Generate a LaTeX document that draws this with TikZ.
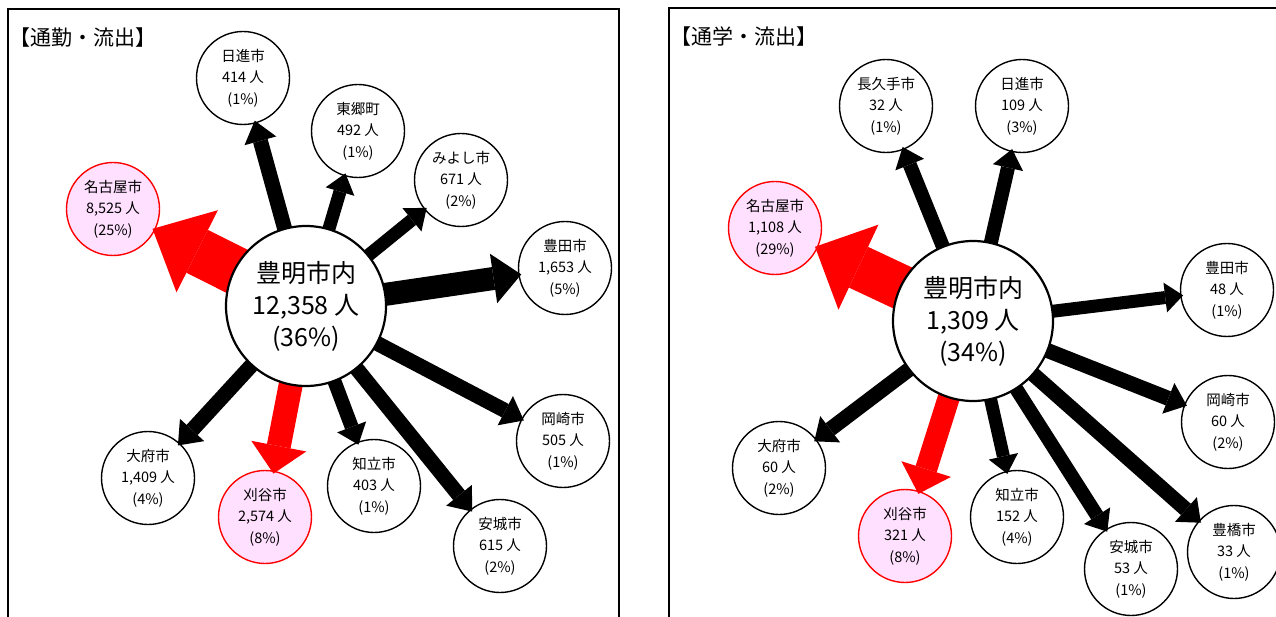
\documentclass[tikz,border=0pt]{standalone}
\usepackage{fontspec}
\setmainfont{Noto Sans CJK JP}
\usetikzlibrary{arrows.meta}
\definecolor{flowred}{RGB}{255,0,0}
\definecolor{softpink}{RGB}{255,224,255}
\pgfdeclarelayer{front}
\pgfsetlayers{main,front}

\begin{document}
\begin{tikzpicture}[x=1pt, y=-1pt,
    town/.style={circle, draw, line width=1.4pt, fill=white, minimum size=93pt, inner sep=0pt, align=center, font=\fontsize{14.5}{21.5}\selectfont},
    major/.style={town, draw=flowred, fill=softpink},
    hub/.style={circle, draw, line width=2.2pt, fill=white, minimum size=160pt, inner sep=0pt, align=center, font=\fontsize{25}{32}\selectfont},
    flow/.style n args={3}{line width=#1, shorten <=-20pt, shorten >=-3pt, -{Triangle[width=#2, length=#3, line width=0pt]}},
    paneltitle/.style={anchor=west, inner sep=0pt, font=\fontsize{21}{21}\selectfont}]
    \clip (0,0) rectangle (1276,617);

    % frames
    \draw[line width=2pt] (8,9) rectangle (619,640);
    \draw[line width=2pt] (669,8) rectangle (1300,640);
    \node[paneltitle] (t1) at (9,38) {【通勤・流出】};
    \node[paneltitle] (t2) at (670,37) {【通学・流出】};

    \begin{pgfonlayer}{front}
        \node[hub] (c1) at (306,306) {豊明市内\\12,358 人\\(36\%)};
        \node[hub] (c2) at (973,321) {豊明市内\\1,309 人\\(34\%)};
    \end{pgfonlayer}

    % commuting
    \node[major] (nagoya1) at (113,209) {名古屋市\\8,525 人\\(25\%)};
    \node[town] (nisshin1) at (243,78) {日進市\\414 人\\(1\%)};
    \node[town] (togo1) at (358,131) {東郷町\\492 人\\(1\%)};
    \node[town] (miyoshi1) at (461,180) {みよし市\\671 人\\(2\%)};
    \node[town] (toyota1) at (565,268) {豊田市\\1,653 人\\(5\%)};
    \node[town] (okazaki1) at (563,441) {岡崎市\\505 人\\(1\%)};
    \node[town] (anjo1) at (500,546) {安城市\\615 人\\(2\%)};
    \node[town] (chiryu1) at (374,486) {知立市\\403 人\\(1\%)};
    \node[major] (kariya1) at (265,517) {刈谷市\\2,574 人\\(8\%)};
    \node[town] (obu1) at (148,478) {大府市\\1,409 人\\(4\%)};

    \draw[flow={48pt}{92pt}{50pt}, flowred] (c1) -- (nagoya1);
    \draw[flow={15pt}{33pt}{21pt}] (c1) -- (nisshin1);
    \draw[flow={13pt}{30pt}{19pt}] (c1) -- (togo1);
    \draw[flow={13pt}{30pt}{19pt}] (c1) -- (miyoshi1);
    \draw[flow={23pt}{50pt}{28pt}] (c1) -- (toyota1);
    \draw[flow={15pt}{33pt}{21pt}] (c1) -- (okazaki1);
    \draw[flow={15pt}{33pt}{21pt}] (c1) -- (anjo1);
    \draw[flow={14pt}{31pt}{19pt}] (c1) -- (chiryu1);
    \draw[flow={24pt}{56pt}{28pt}, flowred] (c1) -- (kariya1);
    \draw[flow={15pt}{33pt}{21pt}] (c1) -- (obu1);

    % schooling
    \node[major] (nagoya2) at (775,228) {名古屋市\\1,108 人\\(29\%)};
    \node[town] (nagakute2) at (886,106) {長久手市\\32 人\\(1\%)};
    \node[town] (nisshin2) at (1022,106) {日進市\\109 人\\(3\%)};
    \node[town] (toyota2) at (1227,290) {豊田市\\48 人\\(1\%)};
    \node[town] (okazaki2) at (1228,422) {岡崎市\\60 人\\(2\%)};
    \node[town] (obu2) at (779,468) {大府市\\60 人\\(2\%)};
    \node[major] (kariya2) at (905,536) {刈谷市\\321 人\\(8\%)};
    \node[town] (chiryu2) at (1017,517) {知立市\\152 人\\(4\%)};
    \node[town] (anjo2) at (1131,569) {安城市\\53 人\\(1\%)};
    \node[town] (toyohashi2) at (1234,552) {豊橋市\\33 人\\(1\%)};

    \draw[flow={45pt}{94pt}{48pt}, flowred] (c2) -- (nagoya2);
    \draw[flow={14pt}{31pt}{19pt}] (c2) -- (nagakute2);
    \draw[flow={14pt}{31pt}{19pt}] (c2) -- (nisshin2);
    \draw[flow={13pt}{30pt}{18pt}] (c2) -- (toyota2);
    \draw[flow={15pt}{33pt}{20pt}] (c2) -- (okazaki2);
    \draw[flow={15pt}{33pt}{20pt}] (c2) -- (obu2);
    \draw[flow={22pt}{52pt}{26pt}, flowred] (c2) -- (kariya2);
    \draw[flow={13pt}{30pt}{18pt}] (c2) -- (chiryu2);
    \draw[flow={14pt}{31pt}{19pt}] (c2) -- (anjo2);
    \draw[flow={15pt}{33pt}{20pt}] (c2) -- (toyohashi2);
\end{tikzpicture}
\end{document}
